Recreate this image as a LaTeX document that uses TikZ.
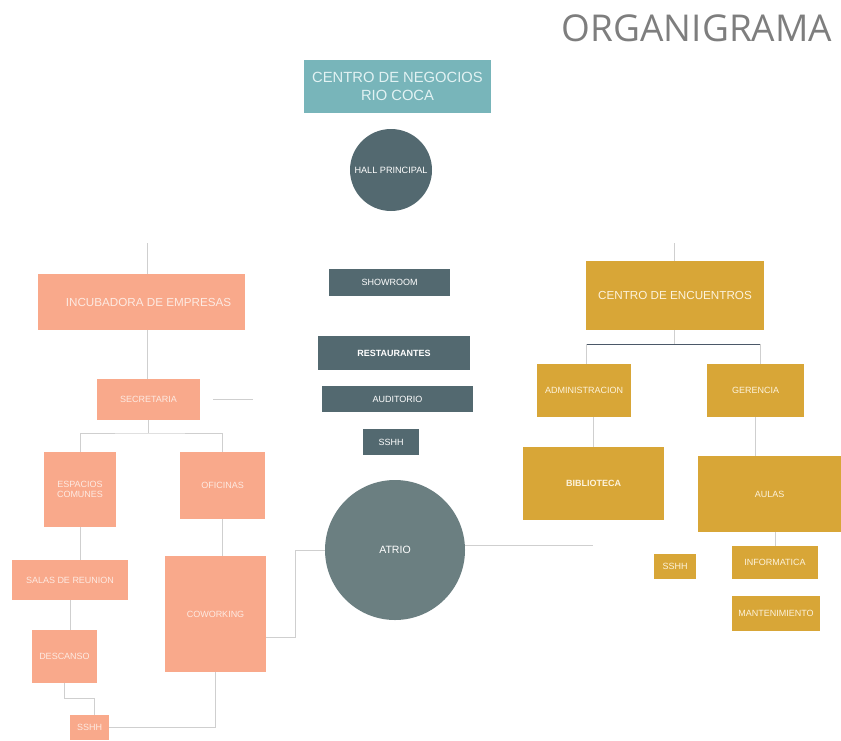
\documentclass[tikz,border=0pt]{standalone}
\usepackage{fontspec}
\setmainfont{Liberation Sans}
\newfontfamily\titlefont{Open Sans}
\usepackage{tikz}
\usetikzlibrary{positioning,calc}
\definecolor{tealhead}{HTML}{78B5BA}
\definecolor{tealtext}{HTML}{E2F2F3}
\definecolor{slate}{HTML}{536970}
\definecolor{atriogray}{HTML}{6B7F81}
\definecolor{salmon}{HTML}{F9A98B}
\definecolor{salmontext}{HTML}{FDEAE2}
\definecolor{gold}{HTML}{D8A637}
\definecolor{goldtext}{HTML}{FDF3DC}
\definecolor{linegray}{HTML}{CFCFCF}
\definecolor{busgray}{HTML}{4B5868}
\definecolor{titlegray}{HTML}{7E7E7E}
\tikzstyle{box} = [rectangle, inner sep=0pt, align=center, font=\fontsize{6.4}{7.4}\selectfont]
\tikzstyle{salmonbox} = [box, fill=salmon, text=salmontext]
\tikzstyle{goldbox} = [box, fill=gold, text=goldtext]
\tikzstyle{slatebox} = [box, fill=slate, text=white]
\tikzstyle{room} = [circle, inner sep=0pt, align=center, text=white, font=\fontsize{6.4}{7.4}\selectfont]
\tikzstyle{link} = [draw=linegray, line width=0.4pt]
\tikzstyle{bus} = [draw=busgray, line width=0.5pt]

\begin{document}
\begin{tikzpicture}
		\useasboundingbox (0,0) rectangle (21.025,-18.5);
		\node (titulo) at (17.425,-0.7) {\titlefont\fontsize{26.3}{28}\selectfont\color{titlegray}ORGANIGRAMA};
		\node[box, fill=tealhead, text=tealtext, font=\fontsize{10.5}{12.5}\selectfont, minimum width=4.675cm, minimum height=1.325cm] (cn) at (9.9375,-2.1625) {CENTRO DE NEGOCIOS\\RIO COCA};
		\node[room, fill=slate, minimum size=2.05cm, font=\fontsize{6.5}{7.5}\selectfont] (hall) at (9.775,-4.25) {HALL PRINCIPAL};
		\node[slatebox, minimum width=3.025cm, minimum height=0.675cm] (show) at (9.7375,-7.0625) {SHOWROOM};
		\node[slatebox, minimum width=3.8cm, minimum height=0.85cm] (rest) at (9.85,-8.825) {\bfseries RESTAURANTES};
		\node[slatebox, minimum width=3.775cm, minimum height=0.65cm] (aud) at (9.9375,-9.975) {AUDITORIO};
		\node[slatebox, minimum width=1.4cm, minimum height=0.65cm] (sshc) at (9.775,-11.05) {SSHH};
		\node[room, fill=atriogray, minimum size=3.5cm, font=\fontsize{7.5}{8.5}\selectfont] (atrio) at (9.875,-13.75) {ATRIO};

		\node[salmonbox, font=\fontsize{8.3}{9.3}\selectfont, minimum width=5.175cm, minimum height=1.4cm] (inc) at (3.5375,-7.55) {\hspace*{0.35cm}INCUBADORA DE EMPRESAS};
		\node[salmonbox, minimum width=2.575cm, minimum height=1.025cm] (sec) at (3.7125,-9.9875) {SECRETARIA};
		\node[salmonbox, minimum width=1.8cm, minimum height=1.875cm] (esp) at (2.0,-12.2375) {ESPACIOS\\COMUNES};
		\node[salmonbox, minimum width=2.125cm, minimum height=1.675cm] (ofi) at (5.5625,-12.1375) {OFICINAS};
		\node[salmonbox, minimum width=2.9cm, minimum height=1.0cm] (sal) at (1.75,-14.5) {SALAS DE REUNION};
		\node[salmonbox, minimum width=1.625cm, minimum height=1.325cm] (des) at (1.6125,-16.4125) {DESCANSO};
		\node[salmonbox, minimum width=0.975cm, minimum height=0.625cm] (ssi) at (2.2375,-18.1875) {SSHH};
		\node[salmonbox, minimum width=2.525cm, minimum height=2.9cm] (cow) at (5.3875,-15.35) {COWORKING};

		\node[goldbox, font=\fontsize{8.3}{9.3}\selectfont, minimum width=4.45cm, minimum height=1.725cm] (ce) at (16.875,-7.3875) {CENTRO DE ENCUENTROS};
		\node[goldbox, minimum width=2.35cm, minimum height=1.325cm] (adm) at (14.6,-9.7625) {ADMINISTRACION};
		\node[goldbox, minimum width=2.425cm, minimum height=1.325cm] (ger) at (18.8875,-9.7625) {GERENCIA};
		\node[goldbox, minimum width=3.525cm, minimum height=1.825cm] (bib) at (14.8375,-12.0875) {\bfseries BIBLIOTECA};
		\node[goldbox, minimum width=3.575cm, minimum height=1.9cm] (aul) at (19.2375,-12.35) {AULAS};
		\node[goldbox, minimum width=2.15cm, minimum height=0.825cm] (inf) at (19.375,-14.0625) {INFORMATICA};
		\node[goldbox, minimum width=1.05cm, minimum height=0.625cm] (ssd) at (16.875,-14.1625) {SSHH};
		\node[goldbox, minimum width=2.2cm, minimum height=0.875cm] (man) at (19.4,-15.3375) {MANTENIMIENTO};

		\coordinate (incTop) at (3.675,-6.075);
		\coordinate (secL) at (5.325,-9.975);
		\coordinate (secR) at (6.325,-9.975);
		\coordinate (secBus) at (3.7125,-10.825);
		\coordinate (desBend) at (2.35,-17.45);
		\coordinate (atrioBend) at (7.375,-13.75);
		\coordinate (atrioEnd) at (14.825,-13.625);
		\coordinate (ceTop) at (16.85,-6.075);
		\coordinate (ceBusL) at (14.65,-8.6);
		\coordinate (ceBusR) at (19.0,-8.6);

		\draw[link] (incTop) -- (incTop |- inc.north);
		\draw[link] (incTop |- inc.south) -- (incTop |- sec.north);
		\draw[link] (secL) -- (secR);
		\draw[link] (sec.south) -- (secBus);
		\draw[link] (esp.north) |- (secBus) -| (ofi.north);
		\draw[link] (esp.south) -- (esp.south |- sal.north);
		\draw[link] (sal.south) -- (sal.south |- des.north);
		\draw[link] (des.south) |- (desBend) -- (desBend |- ssi.north);
		\draw[link] (ofi.south) -- (ofi.south |- cow.north);
		\draw[link] (cow.south) |- (ssi.east);
		\draw[link] ([yshift=-0.575cm]cow.east) -| (atrioBend) -- (atrio.west);
		\draw[link] (atrioEnd -| atrio.east) -- (atrioEnd);

		\draw[link] (ceTop) -- (ceTop |- ce.north);
		\draw[link] (ceTop |- ce.south) -- (ceTop |- ceBusL);
		\draw[bus] (ceBusL) -- (ceBusR);
		\draw[link] (ceBusL) -- (ceBusL |- adm.north);
		\draw[link] (ceBusR) -- (ceBusR |- ger.north);
		\draw[link] (adm.south -| bib.north) -- (bib.north);
		\draw[link] (ger.south) -- (ger.south |- aul.north);
		\draw[link] (aul.south -| inf.north) -- (inf.north);
\end{tikzpicture}
\end{document}
